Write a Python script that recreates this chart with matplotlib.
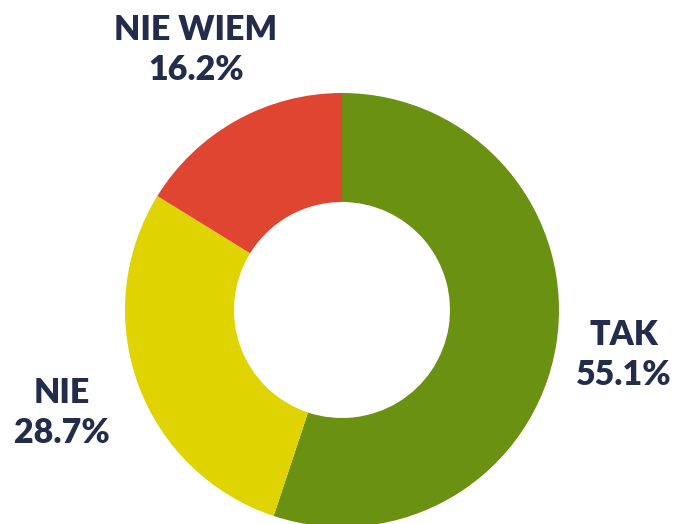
import matplotlib.pyplot as plt

# data
labels = ["TAK", "NIE", "NIE WIEM"]
shares = [55.1, 28.7, 16.2]
colors = ["#6b9112", "#dfd402", "#df4531"]

# label anchor points in pixel space (x, y from top)
label_pos = [(624, 355), (62, 413), (196, 50)]

W, H = 674, 524
fig = plt.figure(figsize=(W / 100, H / 100), dpi=100)
ax = fig.add_axes([0, 0, 1, 1])

ax.pie(
    shares,
    colors=colors,
    startangle=90,
    counterclock=False,
    center=(342, H - 310),
    radius=217,
    wedgeprops=dict(width=109, edgecolor="none"),
    frame=True,
)
ax.set_xlim(0, W)
ax.set_ylim(0, H)
ax.set_aspect("equal")
ax.axis("off")

for lab, val, (x, y) in zip(labels, shares, label_pos):
    ax.text(
        x, H - y, f"{lab}\n{val:.1f}%",
        ha="center", va="center",
        fontsize=24.5, fontweight="heavy", family="Lato",
        color="#232d4b", linespacing=1.3,
    )

fig.savefig("out.png", dpi=100)
